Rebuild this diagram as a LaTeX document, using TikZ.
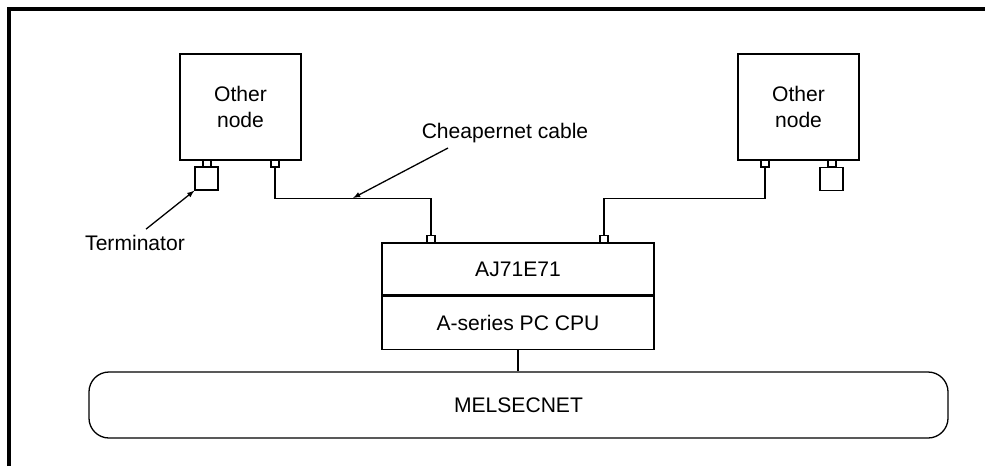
\documentclass[tikz,border=0pt]{standalone}
\usepackage{fontspec}
\setmainfont{Liberation Sans}
\usetikzlibrary{arrows}
\tikzset{
  box/.style={draw, line width=1.1pt, align=center, inner sep=0pt},
  plug/.style={draw, line width=0.9pt, minimum width=0.24cm, minimum height=0.21cm, inner sep=0pt},
  termbox/.style={draw, line width=1.1pt, minimum size=0.69cm, inner sep=0pt},
  cable/.style={line width=1.1pt},
}
\begin{document}
\begin{tikzpicture}[x=0.03cm, y=-0.03cm, font=\fontsize{18}{22}\selectfont]
    \useasboundingbox (0,0) rectangle (985,466);
    \draw[line width=2.6pt] (9,466) -- (9,9) -- (985,9);

    % other nodes
    \node[box, minimum width=3.63cm, minimum height=3.18cm] (nodeL) at (240.5,107) {Other\\node};
    \node[box, minimum width=3.63cm, minimum height=3.18cm] (nodeR) at (798.5,107) {Other\\node};
    \node[plug] (plugL) at (275,163.5) {};
    \node[plug] (stubL) at (207,163.5) {};
    \node[termbox] (termL) at (206.5,178.5) {};
    \node[plug] (plugR) at (765,163.5) {};
    \node[plug] (stubR) at (832,163.5) {};
    \node[termbox] (termR) at (831.5,179) {};

    % station
    \node[box, minimum width=8.16cm, minimum height=1.56cm] (aj) at (518,269) {AJ71E71};
    \node[box, minimum width=8.16cm, minimum height=1.59cm, anchor=north] (cpu) at (aj.south) {A-series PC CPU};
    \node[plug, anchor=south] (plugA) at (431,243) {};
    \node[plug, anchor=south] (plugB) at (604,243) {};

    \node[box, minimum width=25.77cm, minimum height=1.98cm, rounded corners=0.6cm] (net) at (518.5,405) {MELSECNET};
    \draw[cable] (cpu.south) -- (cpu.south |- net.north);

    % cables
    \draw[cable] (plugL.south) -- ++(0,31) -| (plugA.north);
    \draw[cable] (plugR.south) -- ++(0,31) -| (plugB.north);

    % labels
    \coordinate (cablept) at (353,198);
    \node (cabletxt) at (505,133) {Cheapernet cable};
    \draw[cable, -latex] (448,148) -- (cablept);
    \node (termtxt) at (135,243) {Terminator};
    \draw[cable, -latex] (termtxt.north) ++(11,-2) -- (termL.south west);
\end{tikzpicture}
\end{document}
